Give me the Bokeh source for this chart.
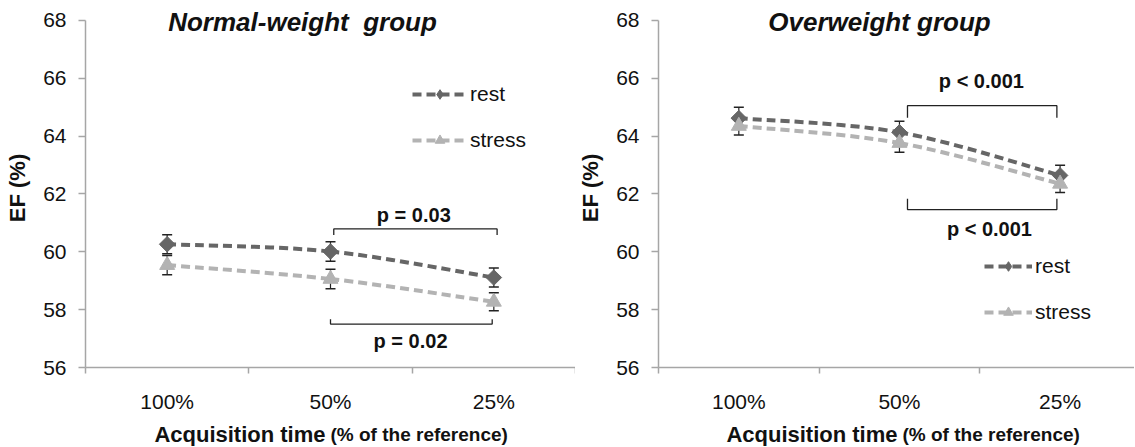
import numpy as np
from bokeh.plotting import figure
from bokeh.layouts import row, column
from bokeh.models import Range1d, FixedTicker, Label, Legend, LegendItem, ColumnDataSource
from bokeh.embed import file_html
from bokeh.resources import INLINE

# ---------------- data ----------------
categories = ["100%", "50%", "25%"]
y_ticks = [56, 58, 60, 62, 64, 66, 68]

normal_rest = [60.26, 60.01, 59.11]
normal_rest_err = [0.33, 0.34, 0.33]
normal_stress = [59.54, 59.06, 58.27]
normal_stress_err = [0.33, 0.34, 0.31]

over_rest = [64.62, 64.13, 62.64]
over_rest_err = [0.38, 0.38, 0.35]
over_stress = [64.35, 63.76, 62.35]
over_stress_err = [0.31, 0.32, 0.30]

series_names = ["rest", "stress"]
panel_titles = ["Normal-weight\u00a0 group", "Overweight group"]
xlabel_main = "Acquisition time"
xlabel_note = "(% of the reference)"

# significance annotations: (x_start, x_end, y_bar, y_tip, label, label_x, label_y)
normal_brackets = [(1.52, 2.52, 60.79, 60.58, "p = 0.03", 2.01, 61.26),
                   (1.50, 2.49, 57.50, 57.67, "p = 0.02", 1.99, 56.91)]
over_brackets = [(1.55, 2.48, 65.05, 64.63, "p < 0.001", 2.01, 65.89),
                 (1.55, 2.48, 61.46, 61.83, "p < 0.001", 2.06, 60.80)]

FONT = "Liberation Sans"
REST_COLOR = "#666666"
STRESS_COLOR = "#b3b3b3"
AXIS_COLOR = "#a6a6a6"
TEXT_COLOR = "#111111"
PX_PER_UNIT = 29.25   # vertical pixels per EF unit
PX_PER_CAT = 163.0    # horizontal pixels per category


def smooth_segments(xs, ys):
    n = len(xs)
    pts = list(zip(xs, ys))
    d = dict(x0=[], y0=[], x1=[], y1=[], cx0=[], cy0=[], cx1=[], cy1=[])
    for i in range(n - 1):
        p0 = pts[i - 1] if i > 0 else pts[i]
        p1 = pts[i]
        p2 = pts[i + 1]
        p3 = pts[i + 2] if i + 2 < n else pts[i + 1]
        d["x0"].append(p1[0]); d["y0"].append(p1[1])
        d["x1"].append(p2[0]); d["y1"].append(p2[1])
        d["cx0"].append(p1[0] + (p2[0] - p0[0]) / 6.0)
        d["cy0"].append(p1[1] + (p2[1] - p0[1]) / 6.0)
        d["cx1"].append(p2[0] - (p3[0] - p1[0]) / 6.0)
        d["cy1"].append(p2[1] - (p3[1] - p1[1]) / 6.0)
    return d


def make_panel(title, rest, rest_err, stress, stress_err, brackets,
               width, border_left, x_end, title_x, legend_loc, legend_glyph_w):
    top_extra = 12 / PX_PER_UNIT
    p = figure(width=width, height=415, output_backend="svg", toolbar_location=None,
               x_range=Range1d(0, x_end), y_range=Range1d(56, 68 + top_extra),
               min_border_left=border_left, min_border_right=0,
               min_border_top=8, min_border_bottom=44)
    p.outline_line_color = None
    p.xgrid.grid_line_color = None
    p.ygrid.grid_line_color = None
    p.background_fill_color = "white"
    p.border_fill_color = "white"

    xs = [i + 0.5 for i in range(len(categories))]

    # y axis
    ya = p.yaxis[0]
    ya.ticker = FixedTicker(ticks=y_ticks)
    ya.bounds = (y_ticks[0], y_ticks[-1])
    ya.axis_line_color = AXIS_COLOR
    ya.axis_line_width = 1.5
    ya.major_tick_line_color = AXIS_COLOR
    ya.major_tick_line_width = 1.5
    ya.major_tick_out = 7
    ya.major_tick_in = 0
    ya.minor_tick_line_color = None
    ya.major_label_standoff = 12
    ya.major_label_text_font = FONT
    ya.major_label_text_font_size = "21px"
    ya.major_label_text_color = TEXT_COLOR
    ya.axis_label = "EF (%)"
    ya.axis_label_text_font = FONT
    ya.axis_label_text_font_size = "22px"
    ya.axis_label_text_font_style = "bold"
    ya.axis_label_text_color = TEXT_COLOR
    ya.axis_label_standoff = 10

    # x axis
    xa = p.xaxis[0]
    xa.ticker = FixedTicker(ticks=xs, minor_ticks=[0, 1, 2, 3])
    xa.major_label_overrides = {x: c for x, c in zip(xs, categories)}
    xa.axis_line_color = AXIS_COLOR
    xa.axis_line_width = 1.5
    xa.major_tick_line_color = None
    xa.major_tick_out = 0
    xa.major_tick_in = 0
    xa.minor_tick_line_color = AXIS_COLOR
    xa.minor_tick_line_width = 1.5
    xa.minor_tick_out = 6
    xa.minor_tick_in = 0
    xa.major_label_standoff = 16
    xa.major_label_text_font = FONT
    xa.major_label_text_font_size = "21px"
    xa.major_label_text_color = TEXT_COLOR

    # error bars
    for vals, errs in [(rest, rest_err), (stress, stress_err)]:
        lo = [v - e for v, e in zip(vals, errs)]
        hi = [v + e for v, e in zip(vals, errs)]
        p.segment(x0=xs, y0=lo, x1=xs, y1=hi, line_color="#222222", line_width=1.2)
        p.scatter(x=xs + xs, y=lo + hi, marker="dash", size=10,
                  line_color="#222222", line_width=1.5)

    legend_items = []
    for name, vals, color, marker in [
        (series_names[0], rest, REST_COLOR, "square"),
        (series_names[1], stress, STRESS_COLOR, "triangle"),
    ]:
        src = ColumnDataSource(smooth_segments(xs, vals))
        line_r = p.bezier(x0="x0", y0="y0", x1="x1", y1="y1", cx0="cx0", cy0="cy0",
                          cx1="cx1", cy1="cy1", source=src, line_color=color,
                          line_width=4, line_dash="9 5")
        if marker == "square":
            p.scatter(x=xs, y=vals, marker="square", angle=np.pi / 4, size=11,
                      fill_color=color, line_color=color)
            leg_mk = p.scatter(x=xs, y=vals, marker="diamond", size=14,
                               fill_color=color, line_color=color, visible=False)
        else:
            leg_mk = p.scatter(x=xs, y=vals, marker="triangle", size=15,
                               fill_color=color, line_color=color)
        legend_items.append(LegendItem(label=name, renderers=[line_r, leg_mk]))

    # brackets
    for (xa0, xa1, yb, yt, lab, lx, ly) in brackets:
        p.line(x=[xa0, xa0, xa1, xa1], y=[yt, yb, yb, yt], line_color="#222222", line_width=1.3)
        p.add_layout(Label(x=lx, y=ly, text=lab, text_align="center", text_baseline="middle",
                           text_font=FONT, text_font_size="20px", text_font_style="bold",
                           text_color=TEXT_COLOR))

    legend = Legend(items=legend_items, location=legend_loc, orientation="vertical",
                    glyph_width=legend_glyph_w, glyph_height=24, label_height=24,
                    spacing=22, padding=0, margin=0, label_standoff=3,
                    label_text_font=FONT, label_text_font_size="21px",
                    label_text_color=TEXT_COLOR,
                    border_line_color=None, background_fill_alpha=0)
    p.add_layout(legend)

    # title (inside the frame, above the 68 tick)
    p.add_layout(Label(x=title_x, y=346, x_units="screen", y_units="screen",
                       text=title, text_align="center", text_baseline="middle",
                       text_font=FONT, text_font_size="26px", text_font_style="bold italic",
                       text_color=TEXT_COLOR))
    return p


def make_xlabel(ref_plot, width, border_left, split, height):
    q = figure(width=width, height=height, output_backend="svg", toolbar_location=None,
               x_range=ref_plot.x_range, y_range=Range1d(0, 1),
               x_axis_type=None, y_axis_type=None,
               min_border_left=border_left, min_border_right=0,
               min_border_top=0, min_border_bottom=0)
    q.outline_line_color = None
    q.xgrid.grid_line_color = None
    q.ygrid.grid_line_color = None
    q.add_layout(Label(x=split, y=12, x_units="screen", y_units="screen",
                       text=xlabel_main, text_align="right", text_baseline="alphabetic",
                       text_font=FONT, text_font_size="22px", text_font_style="bold",
                       text_color=TEXT_COLOR))
    q.add_layout(Label(x=split + 5, y=12, x_units="screen", y_units="screen",
                       text=xlabel_note, text_align="left", text_baseline="alphabetic",
                       text_font=FONT, text_font_size="19px", text_font_style="bold",
                       text_color=TEXT_COLOR))
    return q


W1, W2 = 575, 559
p1 = make_panel(panel_titles[0], normal_rest, normal_rest_err, normal_stress, normal_stress_err,
                normal_brackets, width=W1, border_left=85, x_end=490 / PX_PER_CAT * 0 + 3.0,
                title_x=217, legend_loc=(327, 215), legend_glyph_w=55)
p2 = make_panel(panel_titles[1], over_rest, over_rest_err, over_stress, over_stress_err,
                over_brackets, width=W2, border_left=76, x_end=(W2 - 76) / PX_PER_CAT,
                title_x=221, legend_loc=(326, 43), legend_glyph_w=48)
q1 = make_xlabel(p1, W1, 85, 240, 31)
q2 = make_xlabel(p2, W2, 76, 246, 31)

layout = column(row(p1, p2), row(q1, q2))
open("out.html", "w").write(file_html(layout, INLINE))
